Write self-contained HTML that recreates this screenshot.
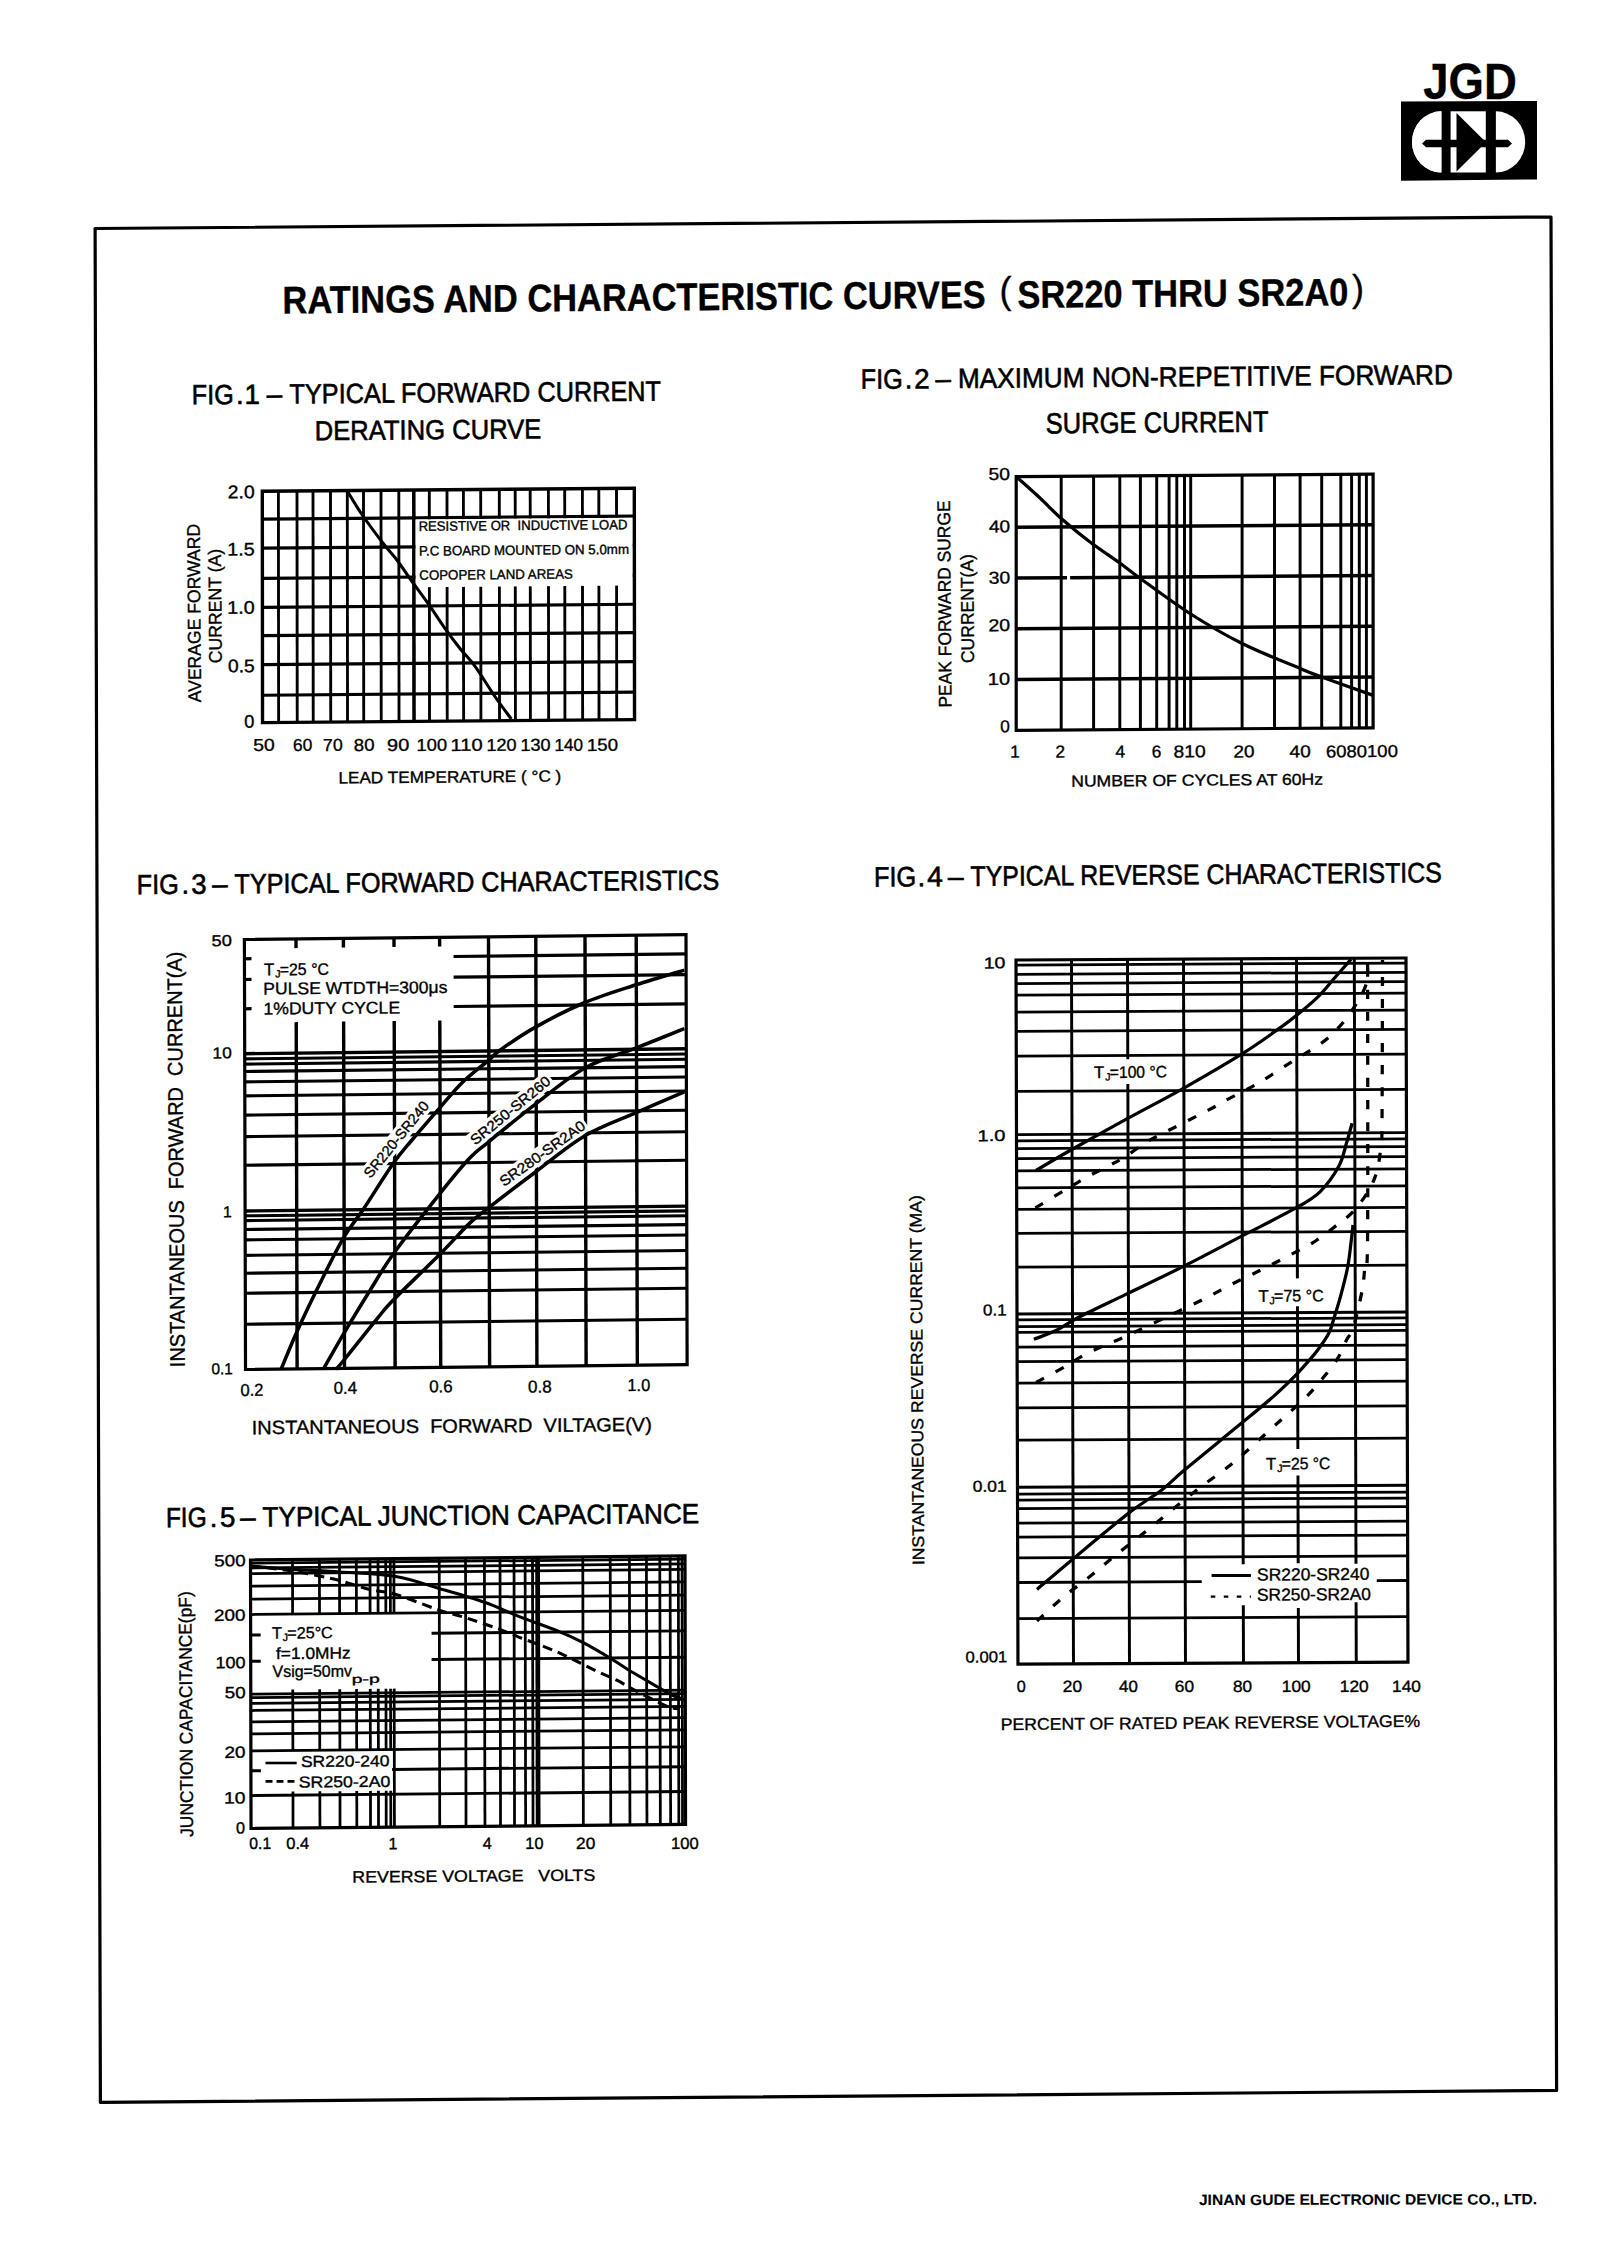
<!DOCTYPE html><html><head><meta charset="utf-8"><title>SR220 THRU SR2A0 Ratings and Characteristic Curves</title>
<style>html,body{margin:0;padding:0;background:#fff;}body{width:1622px;height:2260px;overflow:hidden;}svg{display:block;}text{font-family:"Liberation Sans",sans-serif;fill:#000;stroke:#000;stroke-width:0.35px;white-space:pre;}line{stroke:#000;}</style></head><body>
<svg width="1622" height="2260" viewBox="0 0 1622 2260">
<rect x="0" y="0" width="1622" height="2260" fill="#fff" stroke="none"/>
<g id="logo">
<text x="1423.31" y="99.00" font-size="50.00" font-weight="bold" textLength="93.60" lengthAdjust="spacingAndGlyphs" transform="rotate(0 1424.00 99.00)" >JGD</text>
<path d="M1401 101.5 L1537 101 L1537 179.5 L1401 180.8 Z" fill="#000" stroke="none"/>
<path d="M1441.4 111.3 L1441.4 172.5 A29.4 30.6 0 0 1 1441.4 111.3 Z" fill="#fff" stroke="none"/>
<path d="M1441.4 111.3 A 29.4 30.6 0 0 0 1441.4 172.5 Z" fill="#fff" stroke="none"/>
<rect x="1450.6" y="111.3" width="35.2" height="61.2" fill="#fff" stroke="none"/>
<path d="M1495.9 111.3 A 29.3 30.6 0 0 1 1495.9 172.5 Z" fill="#fff" stroke="none"/>
<path d="M1422 143.5 L1426 139.8 L1508 139.8 L1512 143.5 L1508 147.3 L1426 147.3 Z" fill="#000" stroke="none"/>
<path d="M1456.5 113 L1456.5 171.6 L1486 142.3 Z" fill="#000" stroke="none"/>
</g>
<path d="M95.1 228.5 L1551 217 L1556.6 2090.4 L100.4 2102.3Z" fill="none" stroke="#000" stroke-width="3.2" stroke-linejoin="round" />
<g id="title">
<text x="282.61" y="313.38" font-size="38.60" font-weight="bold" textLength="703.22" lengthAdjust="spacingAndGlyphs" transform="rotate(-0.45 284.90 313.38)" >RATINGS AND CHARACTERISTIC CURVES</text>
<text x="999.45" y="302.91" font-size="36.00" font-weight="normal" transform="rotate(0 1001.30 302.91)" >(</text>
<text x="1017.51" y="307.98" font-size="38.60" font-weight="bold" textLength="330.90" lengthAdjust="spacingAndGlyphs" transform="rotate(-0.45 1018.50 307.98)" >SR220 THRU SR2A0</text>
<text x="1352.02" y="301.21" font-size="36.00" font-weight="normal" transform="rotate(0 1352.00 301.21)" >)</text>
</g>
<g id="fig1">
<text x="191.84" y="404.30" font-size="27.76" font-weight="normal" textLength="41.95" lengthAdjust="spacingAndGlyphs" transform="rotate(-0.45 193.90 404.30)" style="stroke-width:0.6px">FIG</text>
<text x="236.14" y="403.95" font-size="27.76" font-weight="normal" transform="rotate(-0.45 238.80 403.95)" style="stroke-width:0.6px">.</text>
<text x="244.45" y="403.87" font-size="27.76" font-weight="normal" transform="rotate(-0.45 249.10 403.87)" style="stroke-width:0.6px">1</text>
<text x="266.84" y="403.73" font-size="27.76" font-weight="normal" transform="rotate(-0.45 266.90 403.73)" style="stroke-width:0.6px">–</text>
<text x="289.54" y="403.54" font-size="27.76" font-weight="normal" textLength="371.54" lengthAdjust="spacingAndGlyphs" transform="rotate(-0.45 290.10 403.54)" style="stroke-width:0.6px">TYPICAL FORWARD CURRENT</text>
<text x="314.72" y="440.20" font-size="27.47" font-weight="normal" textLength="226.67" lengthAdjust="spacingAndGlyphs" transform="rotate(-0.45 316.80 440.20)" style="stroke-width:0.6px">DERATING CURVE</text>
<g transform="matrix(1 -0.00810 0.00100 1 -0.491 2.125)">
<line x1="278.4" y1="491.3" x2="278.4" y2="722.6" stroke-width="2.85"/>
<line x1="297" y1="491.3" x2="297" y2="722.6" stroke-width="2.85"/>
<line x1="313" y1="491.3" x2="313" y2="722.6" stroke-width="2.85"/>
<line x1="330.5" y1="491.3" x2="330.5" y2="722.6" stroke-width="2.85"/>
<line x1="347.3" y1="491.3" x2="347.3" y2="722.6" stroke-width="2.85"/>
<line x1="363.5" y1="491.3" x2="363.5" y2="722.6" stroke-width="2.85"/>
<line x1="381" y1="491.3" x2="381" y2="722.6" stroke-width="2.85"/>
<line x1="398.8" y1="491.3" x2="398.8" y2="722.6" stroke-width="2.85"/>
<line x1="413.8" y1="491.3" x2="413.8" y2="722.6" stroke-width="3.5500000000000003"/>
<line x1="429.3" y1="491.3" x2="429.3" y2="722.6" stroke-width="2.85"/>
<line x1="447" y1="491.3" x2="447" y2="722.6" stroke-width="2.85"/>
<line x1="463.4" y1="491.3" x2="463.4" y2="722.6" stroke-width="2.85"/>
<line x1="480.7" y1="491.3" x2="480.7" y2="722.6" stroke-width="2.85"/>
<line x1="499.3" y1="491.3" x2="499.3" y2="722.6" stroke-width="2.85"/>
<line x1="515.2" y1="491.3" x2="515.2" y2="722.6" stroke-width="2.85"/>
<line x1="530.2" y1="491.3" x2="530.2" y2="722.6" stroke-width="2.85"/>
<line x1="548.4" y1="491.3" x2="548.4" y2="722.6" stroke-width="2.85"/>
<line x1="564.7" y1="491.3" x2="564.7" y2="722.6" stroke-width="2.85"/>
<line x1="582.4" y1="491.3" x2="582.4" y2="722.6" stroke-width="2.85"/>
<line x1="598.8" y1="491.3" x2="598.8" y2="722.6" stroke-width="2.85"/>
<line x1="616.5" y1="491.3" x2="616.5" y2="722.6" stroke-width="2.85"/>
<line x1="262.3" y1="519.1" x2="634.3" y2="519.1" stroke-width="3.15"/>
<line x1="262.3" y1="548.1" x2="634.3" y2="548.1" stroke-width="3.15"/>
<line x1="262.3" y1="578.3" x2="634.3" y2="578.3" stroke-width="3.15"/>
<line x1="262.3" y1="607.3" x2="634.3" y2="607.3" stroke-width="3.15"/>
<line x1="262.3" y1="635.6" x2="634.3" y2="635.6" stroke-width="3.15"/>
<line x1="262.3" y1="664.6" x2="634.3" y2="664.6" stroke-width="3.15"/>
<line x1="262.3" y1="695.2" x2="634.3" y2="695.2" stroke-width="3.15"/>
<rect x="415.6" y="520.7" width="217.1" height="67.8" fill="#fff" stroke="none"/>
<rect x="262.3" y="491.3" width="372" height="231.3" fill="none" stroke="#000" stroke-width="3.4"/>
</g>
<text x="418.63" y="530.89" font-size="13.63" font-weight="normal" textLength="208.90" lengthAdjust="spacingAndGlyphs" transform="rotate(-0.45 419.70 530.89)" >RESISTIVE OR  INDUCTIVE LOAD</text>
<text x="418.92" y="555.59" font-size="13.63" font-weight="normal" textLength="210.05" lengthAdjust="spacingAndGlyphs" transform="rotate(-0.45 420.00 555.59)" >P.C BOARD MOUNTED ON 5.0mm</text>
<text x="419.33" y="579.79" font-size="13.63" font-weight="normal" textLength="153.58" lengthAdjust="spacingAndGlyphs" transform="rotate(-0.45 420.00 579.79)" >COPOPER LAND AREAS</text>
<path d="M347.2 491 C349.6 494.83 355.72 505.42 361.6 514 C367.48 522.58 376.55 534.75 382.5 542.5 C388.45 550.25 392.5 554.17 397.3 560.5 C402.1 566.83 406.1 573.22 411.3 580.5 C416.5 587.78 422.9 596.23 428.5 604.2 C434.1 612.17 439.58 620.83 444.9 628.3 C450.22 635.77 455.37 642.67 460.4 649 C465.43 655.33 469.35 658.38 475.1 666.3 C480.85 674.22 488.87 687.72 494.9 696.5 C500.93 705.28 508.57 715.25 511.3 719" fill="none" stroke="#000" stroke-width="3.0500000000000003" stroke-linecap="butt" stroke-linejoin="round" />
<text x="227.83" y="498.27" font-size="18.24" font-weight="normal" textLength="26.93" lengthAdjust="spacingAndGlyphs" transform="rotate(-0.45 228.80 498.27)" >2.0</text>
<text x="227.29" y="555.57" font-size="18.24" font-weight="normal" textLength="27.54" lengthAdjust="spacingAndGlyphs" transform="rotate(-0.45 228.80 555.57)" >1.5</text>
<text x="227.29" y="613.87" font-size="18.24" font-weight="normal" textLength="27.48" lengthAdjust="spacingAndGlyphs" transform="rotate(-0.45 228.80 613.87)" >1.0</text>
<text x="228.05" y="672.27" font-size="18.24" font-weight="normal" textLength="26.76" lengthAdjust="spacingAndGlyphs" transform="rotate(-0.45 228.80 672.27)" >0.5</text>
<text x="244.18" y="727.77" font-size="18.24" font-weight="normal" transform="rotate(-0.45 244.50 727.77)" >0</text>
<text x="253.22" y="750.94" font-size="17.28" font-weight="normal" textLength="21.53" lengthAdjust="spacingAndGlyphs" transform="rotate(-0.45 254.00 750.94)" >50</text>
<text x="293.12" y="750.94" font-size="17.28" font-weight="normal" textLength="19.26" lengthAdjust="spacingAndGlyphs" transform="rotate(-0.45 294.00 750.94)" >60</text>
<text x="323.10" y="750.94" font-size="17.28" font-weight="normal" textLength="19.59" lengthAdjust="spacingAndGlyphs" transform="rotate(-0.45 324.00 750.94)" >70</text>
<text x="353.79" y="750.94" font-size="17.28" font-weight="normal" textLength="20.74" lengthAdjust="spacingAndGlyphs" transform="rotate(-0.45 354.60 750.94)" >80</text>
<text x="387.06" y="750.94" font-size="17.28" font-weight="normal" textLength="22.22" lengthAdjust="spacingAndGlyphs" transform="rotate(-0.45 388.00 750.94)" >90</text>
<text x="416.61" y="750.94" font-size="17.28" font-weight="normal" textLength="30.51" lengthAdjust="spacingAndGlyphs" transform="rotate(-0.45 418.00 750.94)" >100</text>
<text x="450.53" y="750.94" font-size="17.28" font-weight="normal" textLength="32.23" lengthAdjust="spacingAndGlyphs" transform="rotate(-0.45 452.00 750.94)" >110</text>
<text x="486.42" y="750.94" font-size="17.28" font-weight="normal" textLength="30.29" lengthAdjust="spacingAndGlyphs" transform="rotate(-0.45 487.80 750.94)" >120</text>
<text x="520.42" y="750.94" font-size="17.28" font-weight="normal" textLength="30.29" lengthAdjust="spacingAndGlyphs" transform="rotate(-0.45 521.80 750.94)" >130</text>
<text x="554.49" y="750.94" font-size="17.28" font-weight="normal" textLength="28.68" lengthAdjust="spacingAndGlyphs" transform="rotate(-0.45 555.80 750.94)" >140</text>
<text x="586.98" y="750.94" font-size="17.28" font-weight="normal" textLength="31.15" lengthAdjust="spacingAndGlyphs" transform="rotate(-0.45 588.40 750.94)" >150</text>
<text x="338.40" y="783.41" font-size="16.32" font-weight="normal" textLength="222.96" lengthAdjust="spacingAndGlyphs" transform="rotate(-0.45 339.80 783.41)" >LEAD TEMPERATURE ( °C )</text>
<text x="-0.03" y="6.27" font-size="18.24" font-weight="normal" textLength="178.46" lengthAdjust="spacingAndGlyphs" transform="translate(194.80 702.30) rotate(-90.45)" >AVERAGE FORWARD</text>
<text x="-0.89" y="6.27" font-size="18.24" font-weight="normal" textLength="114.39" lengthAdjust="spacingAndGlyphs" transform="translate(215.50 662.40) rotate(-90.45)" >CURRENT (A)</text>
</g>
<g id="fig2">
<text x="860.84" y="388.80" font-size="27.76" font-weight="normal" textLength="41.95" lengthAdjust="spacingAndGlyphs" transform="rotate(-0.45 862.90 388.80)" style="stroke-width:0.6px">FIG</text>
<text x="904.89" y="388.45" font-size="27.76" font-weight="normal" transform="rotate(-0.45 907.30 388.45)" style="stroke-width:0.6px">.</text>
<text x="914.38" y="388.39" font-size="27.76" font-weight="normal" transform="rotate(-0.45 915.70 388.39)" style="stroke-width:0.6px">2</text>
<text x="935.59" y="388.23" font-size="27.76" font-weight="normal" transform="rotate(-0.45 935.90 388.23)" style="stroke-width:0.6px">–</text>
<text x="957.96" y="388.04" font-size="27.76" font-weight="normal" textLength="494.99" lengthAdjust="spacingAndGlyphs" transform="rotate(-0.45 960.10 388.04)" style="stroke-width:0.6px">MAXIMUM NON-REPETITIVE FORWARD</text>
<text x="1045.84" y="433.40" font-size="29.22" font-weight="normal" textLength="222.75" lengthAdjust="spacingAndGlyphs" transform="rotate(-0.45 1047.00 433.40)" style="stroke-width:0.6px">SURGE CURRENT</text>
<g transform="matrix(1 -0.00700 0.00000 1 -0.000 7.113)">
<line x1="1061.2" y1="476.6" x2="1061.2" y2="730.3" stroke-width="2.95"/>
<line x1="1093.6" y1="476.6" x2="1093.6" y2="730.3" stroke-width="2.95"/>
<line x1="1119.8" y1="476.6" x2="1119.8" y2="730.3" stroke-width="2.95"/>
<line x1="1140.4" y1="476.6" x2="1140.4" y2="730.3" stroke-width="2.95"/>
<line x1="1156.7" y1="476.6" x2="1156.7" y2="730.3" stroke-width="2.95"/>
<line x1="1169.1" y1="476.6" x2="1169.1" y2="730.3" stroke-width="2.95"/>
<line x1="1176.8" y1="476.6" x2="1176.8" y2="730.3" stroke-width="2.95"/>
<line x1="1184.5" y1="476.6" x2="1184.5" y2="730.3" stroke-width="2.95"/>
<line x1="1190.7" y1="476.6" x2="1190.7" y2="730.3" stroke-width="2.95"/>
<line x1="1242.1" y1="476.6" x2="1242.1" y2="730.3" stroke-width="2.95"/>
<line x1="1274.5" y1="476.6" x2="1274.5" y2="730.3" stroke-width="2.95"/>
<line x1="1300.1" y1="476.6" x2="1300.1" y2="730.3" stroke-width="2.95"/>
<line x1="1321.7" y1="476.6" x2="1321.7" y2="730.3" stroke-width="2.95"/>
<line x1="1340.8" y1="476.6" x2="1340.8" y2="730.3" stroke-width="2.95"/>
<line x1="1351.6" y1="476.6" x2="1351.6" y2="730.3" stroke-width="2.95"/>
<line x1="1359.3" y1="476.6" x2="1359.3" y2="730.3" stroke-width="2.95"/>
<line x1="1366.4" y1="476.6" x2="1366.4" y2="730.3" stroke-width="2.95"/>
<line x1="1016.2" y1="527.34" x2="1373.1" y2="527.34" stroke-width="3.45"/>
<line x1="1016.2" y1="578.08" x2="1067" y2="578.08" stroke-width="3.45"/>
<line x1="1070.1" y1="578.08" x2="1373.1" y2="578.08" stroke-width="3.45"/>
<line x1="1016.2" y1="628.82" x2="1373.1" y2="628.82" stroke-width="3.45"/>
<line x1="1016.2" y1="679.56" x2="1373.1" y2="679.56" stroke-width="3.45"/>
<rect x="1016.2" y="476.6" width="356.9" height="253.7" fill="none" stroke="#000" stroke-width="3.2"/>
</g>
<path d="M1016.2 476.6 C1020.17 480.17 1032.5 491.02 1040 498 C1047.5 504.98 1052.87 511.17 1061.2 518.5 C1069.53 525.83 1080.23 534.58 1090 542 C1099.77 549.42 1111.4 556.92 1119.8 563 C1128.2 569.08 1128.58 570 1140.4 578.5 C1152.22 587 1173.75 603.17 1190.7 614 C1207.65 624.83 1223.87 634.42 1242.1 643.5 C1260.33 652.58 1286.83 662.92 1300.1 668.5 C1313.37 674.08 1309.53 672.52 1321.7 677 C1333.87 681.48 1364.53 692.33 1373.1 695.4" fill="none" stroke="#000" stroke-width="3.25" stroke-linecap="butt" stroke-linejoin="round" />
<text x="988.62" y="480.04" font-size="17.28" font-weight="normal" textLength="21.53" lengthAdjust="spacingAndGlyphs" transform="rotate(-0.45 989.40 480.04)" >50</text>
<text x="988.96" y="532.44" font-size="17.28" font-weight="normal" textLength="21.18" lengthAdjust="spacingAndGlyphs" transform="rotate(-0.45 989.40 532.44)" >40</text>
<text x="988.66" y="583.64" font-size="17.28" font-weight="normal" textLength="21.49" lengthAdjust="spacingAndGlyphs" transform="rotate(-0.45 989.40 583.64)" >30</text>
<text x="988.42" y="631.14" font-size="17.28" font-weight="normal" textLength="21.75" lengthAdjust="spacingAndGlyphs" transform="rotate(-0.45 989.40 631.14)" >20</text>
<text x="987.87" y="684.94" font-size="17.28" font-weight="normal" textLength="22.31" lengthAdjust="spacingAndGlyphs" transform="rotate(-0.45 989.40 684.94)" >10</text>
<text x="1000.29" y="732.24" font-size="17.28" font-weight="normal" transform="rotate(-0.45 1000.80 732.24)" >0</text>
<text x="1010.21" y="757.44" font-size="17.28" font-weight="normal" transform="rotate(-0.45 1012.50 757.44)" >1</text>
<text x="1055.44" y="757.44" font-size="17.28" font-weight="normal" transform="rotate(-0.45 1055.60 757.44)" >2</text>
<text x="1115.60" y="757.44" font-size="17.28" font-weight="normal" transform="rotate(-0.45 1115.70 757.44)" >4</text>
<text x="1151.64" y="757.44" font-size="17.28" font-weight="normal" transform="rotate(-0.45 1151.00 757.44)" >6</text>
<text x="1173.46" y="757.44" font-size="17.28" font-weight="normal" textLength="32.30" lengthAdjust="spacingAndGlyphs" transform="rotate(-0.45 1174.30 757.44)" >810</text>
<text x="1233.45" y="757.44" font-size="17.28" font-weight="normal" textLength="21.09" lengthAdjust="spacingAndGlyphs" transform="rotate(-0.45 1234.40 757.44)" >20</text>
<text x="1289.56" y="757.44" font-size="17.28" font-weight="normal" textLength="21.18" lengthAdjust="spacingAndGlyphs" transform="rotate(-0.45 1290.00 757.44)" >40</text>
<text x="1325.96" y="757.44" font-size="17.28" font-weight="normal" textLength="71.96" lengthAdjust="spacingAndGlyphs" transform="rotate(-0.45 1326.90 757.44)" >6080100</text>
<text x="1071.17" y="786.68" font-size="15.94" font-weight="normal" textLength="252.00" lengthAdjust="spacingAndGlyphs" transform="rotate(-0.45 1072.60 786.68)" >NUMBER OF CYCLES AT 60Hz</text>
<text x="-1.42" y="6.27" font-size="18.24" font-weight="normal" textLength="207.17" lengthAdjust="spacingAndGlyphs" transform="translate(945.30 706.20) rotate(-90.45)" >PEAK FORWARD SURGE</text>
<text x="-0.89" y="6.27" font-size="18.24" font-weight="normal" textLength="108.98" lengthAdjust="spacingAndGlyphs" transform="translate(967.80 662.20) rotate(-90.45)" >CURRENT(A)</text>
</g>
<g id="fig3">
<text x="136.84" y="894.20" font-size="27.76" font-weight="normal" textLength="41.95" lengthAdjust="spacingAndGlyphs" transform="rotate(-0.45 138.90 894.20)" style="stroke-width:0.6px">FIG</text>
<text x="181.39" y="893.85" font-size="27.76" font-weight="normal" transform="rotate(-0.45 183.80 893.85)" style="stroke-width:0.6px">.</text>
<text x="191.16" y="893.78" font-size="27.76" font-weight="normal" transform="rotate(-0.45 192.60 893.78)" style="stroke-width:0.6px">3</text>
<text x="212.34" y="893.62" font-size="27.76" font-weight="normal" transform="rotate(-0.45 212.90 893.62)" style="stroke-width:0.6px">–</text>
<text x="234.54" y="893.44" font-size="27.76" font-weight="normal" textLength="484.81" lengthAdjust="spacingAndGlyphs" transform="rotate(-0.45 235.10 893.44)" style="stroke-width:0.6px">TYPICAL FORWARD CHARACTERISTICS</text>
<g transform="matrix(1 -0.01110 0.00260 1 -2.443 2.713)">
<line x1="244.4" y1="1324.2" x2="686" y2="1324.2" stroke-width="3.1"/>
<line x1="244.4" y1="1293.2" x2="686" y2="1293.2" stroke-width="3.1"/>
<line x1="244.4" y1="1273.2" x2="686" y2="1273.2" stroke-width="3.1"/>
<line x1="244.4" y1="1255.4" x2="686" y2="1255.4" stroke-width="3.1"/>
<line x1="244.4" y1="1239.9" x2="686" y2="1239.9" stroke-width="3.1"/>
<line x1="244.4" y1="1229.5" x2="686" y2="1229.5" stroke-width="3.1"/>
<line x1="244.4" y1="1220.6" x2="686" y2="1220.6" stroke-width="3.1"/>
<line x1="244.4" y1="1215.8" x2="686" y2="1215.8" stroke-width="3.1"/>
<line x1="244.4" y1="1211" x2="686" y2="1211" stroke-width="3.4"/>
<line x1="244.4" y1="1165.2" x2="686" y2="1165.2" stroke-width="3.1"/>
<line x1="244.4" y1="1136.6" x2="686" y2="1136.6" stroke-width="3.1"/>
<line x1="244.4" y1="1115.1" x2="686" y2="1115.1" stroke-width="3.1"/>
<line x1="244.4" y1="1095.9" x2="686" y2="1095.9" stroke-width="3.1"/>
<line x1="244.4" y1="1081.9" x2="686" y2="1081.9" stroke-width="3.1"/>
<line x1="244.4" y1="1071.5" x2="686" y2="1071.5" stroke-width="3.1"/>
<line x1="244.4" y1="1064.1" x2="686" y2="1064.1" stroke-width="3.1"/>
<line x1="244.4" y1="1058.9" x2="686" y2="1058.9" stroke-width="3.1"/>
<line x1="244.4" y1="1053.7" x2="686" y2="1053.7" stroke-width="3.4"/>
<line x1="453.5" y1="1008.8" x2="686" y2="1008.8" stroke-width="3.2"/>
<line x1="244.4" y1="1008.8" x2="251.4" y2="1008.8" stroke-width="3.2"/>
<line x1="453.5" y1="979.5" x2="686" y2="979.5" stroke-width="3.2"/>
<line x1="244.4" y1="979.5" x2="251.4" y2="979.5" stroke-width="3.2"/>
<line x1="453.5" y1="958.8" x2="686" y2="958.8" stroke-width="3.2"/>
<line x1="244.4" y1="958.8" x2="251.4" y2="958.8" stroke-width="3.2"/>
<line x1="296" y1="939.5" x2="296" y2="948.7" stroke-width="3.4"/>
<line x1="296" y1="1022.7" x2="296" y2="1369.5" stroke-width="3.4"/>
<line x1="343.4" y1="939.5" x2="343.4" y2="948.7" stroke-width="3.4"/>
<line x1="343.4" y1="1022.7" x2="343.4" y2="1369.5" stroke-width="3.4"/>
<line x1="394" y1="939.5" x2="394" y2="948.7" stroke-width="3.4"/>
<line x1="394" y1="1022.7" x2="394" y2="1369.5" stroke-width="3.4"/>
<line x1="439.6" y1="939.5" x2="439.6" y2="948.7" stroke-width="3.4"/>
<line x1="439.6" y1="1022.7" x2="439.6" y2="1369.5" stroke-width="3.4"/>
<line x1="488.5" y1="939.5" x2="488.5" y2="1369.5" stroke-width="3.4"/>
<line x1="535.8" y1="939.5" x2="535.8" y2="1369.5" stroke-width="3.4"/>
<line x1="585" y1="939.5" x2="585" y2="1369.5" stroke-width="3.4"/>
<line x1="636.2" y1="939.5" x2="636.2" y2="1369.5" stroke-width="3.4"/>
<rect x="244.4" y="939.5" width="441.6" height="430" fill="none" stroke="#000" stroke-width="3.2"/>
</g>
<text x="264.09" y="975.21" font-size="16.90" font-weight="normal" transform="rotate(-0.45 264.00 975.21)" >T</text>
<text x="275.17" y="977.63" font-size="10.56" font-weight="normal" transform="rotate(-0.45 275.00 977.63)" >J</text>
<text x="279.72" y="975.21" font-size="16.90" font-weight="normal" textLength="49.28" lengthAdjust="spacingAndGlyphs" transform="rotate(-0.45 280.50 975.21)" >=25 °C</text>
<text x="263.36" y="994.41" font-size="16.90" font-weight="normal" textLength="184.07" lengthAdjust="spacingAndGlyphs" transform="rotate(-0.45 264.80 994.41)" >PULSE WTDTH=300μs</text>
<text x="263.46" y="1014.41" font-size="16.90" font-weight="normal" textLength="136.69" lengthAdjust="spacingAndGlyphs" transform="rotate(-0.45 264.80 1014.41)" >1%DUTY CYCLE</text>
<rect x="-3" y="-13.5" width="98.77" height="17" fill="#fff" stroke="none" transform="translate(371 1178.6) rotate(-50.91)"/>
<rect x="-3" y="-13.5" width="103.69" height="17" fill="#fff" stroke="none" transform="translate(475.7 1145.3) rotate(-39.39)"/>
<rect x="-3" y="-13.5" width="106.03" height="17" fill="#fff" stroke="none" transform="translate(504.5 1186.5) rotate(-35.44)"/>
<path d="M281 1369.4 C283.6 1363.23 290.3 1346.33 296.6 1332.4 C302.9 1318.47 310.97 1301.58 318.8 1285.8 C326.63 1270.02 336.2 1250.42 343.6 1237.7 C351 1224.98 355 1221.78 363.2 1209.5 C371.4 1197.22 384.67 1175.58 392.8 1164 C400.93 1152.42 404.07 1149.48 412 1140 C419.93 1130.52 432.05 1116.65 440.4 1107.1 C448.75 1097.55 454.08 1090.5 462.1 1082.7 C470.12 1074.9 482.03 1065.83 488.5 1060.3 C494.97 1054.77 493.07 1055.03 500.9 1049.5 C508.73 1043.97 521.5 1034.93 535.5 1027.1 C549.5 1019.27 568.12 1009.57 584.9 1002.5 C601.68 995.43 619.63 990.1 636.2 984.7 C652.77 979.3 676.28 972.53 684.3 970.1" fill="none" stroke="#000" stroke-width="3.5500000000000003" stroke-linecap="butt" stroke-linejoin="round" />
<path d="M323.2 1369.4 C326.6 1363.47 335.7 1347.12 343.6 1333.8 C351.5 1320.48 362.15 1303.05 370.6 1289.5 C379.05 1275.95 382.72 1268.53 394.3 1252.5 C405.88 1236.47 427.48 1209.08 440.1 1193.3 C452.72 1177.52 461.88 1166.38 470 1157.8 C478.12 1149.22 477.68 1150.92 488.8 1141.8 C499.92 1132.68 520.68 1115.4 536.7 1103.1 C552.72 1090.8 568.32 1077.2 584.9 1068 C601.48 1058.8 619.63 1054.45 636.2 1047.9 C652.77 1041.35 676.28 1031.9 684.3 1028.7" fill="none" stroke="#000" stroke-width="3.5500000000000003" stroke-linecap="butt" stroke-linejoin="round" />
<path d="M335.8 1369.4 C337.1 1367.92 336.57 1369.13 343.6 1360.5 C350.63 1351.87 369.55 1327.85 378 1317.6 C386.45 1307.35 383.95 1309.6 394.3 1299 C404.65 1288.4 427.48 1266.68 440.1 1254 C452.72 1241.32 461.93 1230.6 470 1222.9 C478.07 1215.2 477.58 1216.28 488.5 1207.8 C499.42 1199.32 519.43 1184 535.5 1172 C551.57 1160 568.12 1145.68 584.9 1135.8 C601.68 1125.92 619.63 1120.02 636.2 1112.7 C652.77 1105.38 676.28 1095.37 684.3 1091.9" fill="none" stroke="#000" stroke-width="3.5500000000000003" stroke-linecap="butt" stroke-linejoin="round" />
<text x="-0.66" y="0" font-size="14.50" font-weight="normal" textLength="94.00" lengthAdjust="spacingAndGlyphs" transform="translate(371.00 1178.60) rotate(-50.906)" >SR220-SR240</text>
<text x="-0.70" y="0" font-size="14.50" font-weight="normal" textLength="98.99" lengthAdjust="spacingAndGlyphs" transform="translate(475.70 1145.30) rotate(-39.393)" >SR250-SR260</text>
<text x="-0.70" y="0" font-size="14.50" font-weight="normal" textLength="101.34" lengthAdjust="spacingAndGlyphs" transform="translate(504.50 1186.50) rotate(-35.438)" >SR280-SR2A0</text>
<text x="211.47" y="946.15" font-size="15.84" font-weight="normal" textLength="20.35" lengthAdjust="spacingAndGlyphs" transform="rotate(-0.45 212.20 946.15)" >50</text>
<text x="212.59" y="1058.45" font-size="15.84" font-weight="normal" textLength="19.19" lengthAdjust="spacingAndGlyphs" transform="rotate(-0.45 213.90 1058.45)" >10</text>
<text x="222.88" y="1217.25" font-size="15.84" font-weight="normal" transform="rotate(-0.45 224.00 1217.25)" >1</text>
<text x="211.40" y="1374.35" font-size="15.84" font-weight="normal" textLength="21.35" lengthAdjust="spacingAndGlyphs" transform="rotate(-0.45 212.00 1374.35)" >0.1</text>
<text x="240.45" y="1395.94" font-size="17.28" font-weight="normal" textLength="22.98" lengthAdjust="spacingAndGlyphs" transform="rotate(-0.45 241.10 1395.94)" >0.2</text>
<text x="333.64" y="1393.84" font-size="17.28" font-weight="normal" textLength="23.35" lengthAdjust="spacingAndGlyphs" transform="rotate(-0.45 334.30 1393.84)" >0.4</text>
<text x="429.14" y="1392.34" font-size="17.28" font-weight="normal" textLength="23.61" lengthAdjust="spacingAndGlyphs" transform="rotate(-0.45 429.80 1392.34)" >0.6</text>
<text x="527.93" y="1392.54" font-size="17.28" font-weight="normal" textLength="23.81" lengthAdjust="spacingAndGlyphs" transform="rotate(-0.45 528.60 1392.54)" >0.8</text>
<text x="627.56" y="1391.04" font-size="17.28" font-weight="normal" textLength="22.68" lengthAdjust="spacingAndGlyphs" transform="rotate(-0.45 628.80 1391.04)" >1.0</text>
<text x="251.78" y="1434.20" font-size="19.20" font-weight="normal" textLength="400.14" lengthAdjust="spacingAndGlyphs" transform="rotate(-0.45 253.60 1434.20)" >INSTANTANEOUS  FORWARD  VILTAGE(V)</text>
<text x="-1.83" y="7.22" font-size="21.00" font-weight="normal" textLength="415.65" lengthAdjust="spacingAndGlyphs" transform="translate(177.60 1365.40) rotate(-90.45)" >INSTANTANEOUS  FORWARD  CURRENT(A)</text>
</g>
<g id="fig4">
<text x="873.91" y="886.70" font-size="28.20" font-weight="normal" textLength="42.39" lengthAdjust="spacingAndGlyphs" transform="rotate(-0.45 876.00 886.70)" style="stroke-width:0.6px">FIG</text>
<text x="917.58" y="886.35" font-size="28.20" font-weight="normal" transform="rotate(-0.45 920.00 886.35)" style="stroke-width:0.6px">.</text>
<text x="927.25" y="886.29" font-size="28.20" font-weight="normal" transform="rotate(-0.45 928.00 886.29)" style="stroke-width:0.6px">4</text>
<text x="948.02" y="886.13" font-size="28.20" font-weight="normal" transform="rotate(-0.45 949.00 886.13)" style="stroke-width:0.6px">–</text>
<text x="970.44" y="885.95" font-size="28.20" font-weight="normal" textLength="471.50" lengthAdjust="spacingAndGlyphs" transform="rotate(-0.45 971.00 885.95)" style="stroke-width:0.6px">TYPICAL REVERSE CHARACTERISTICS</text>
<g transform="matrix(1 -0.00510 0.00280 1 -2.688 5.182)">
<line x1="1016" y1="965" x2="1406" y2="965" stroke-width="2.75"/>
<line x1="1016" y1="974.3" x2="1406" y2="974.3" stroke-width="2.75"/>
<line x1="1016" y1="983.5" x2="1406" y2="983.5" stroke-width="2.75"/>
<line x1="1016" y1="995.1" x2="1406" y2="995.1" stroke-width="2.75"/>
<line x1="1016" y1="1012" x2="1406" y2="1012" stroke-width="2.75"/>
<line x1="1016" y1="1031.3" x2="1406" y2="1031.3" stroke-width="2.75"/>
<line x1="1016" y1="1056" x2="1406" y2="1056" stroke-width="2.75"/>
<line x1="1016" y1="1091.4" x2="1406" y2="1091.4" stroke-width="2.75"/>
<line x1="1016" y1="1134.6" x2="1406" y2="1134.6" stroke-width="2.95"/>
<line x1="1016" y1="1140.8" x2="1406" y2="1140.8" stroke-width="2.75"/>
<line x1="1016" y1="1148.5" x2="1406" y2="1148.5" stroke-width="2.75"/>
<line x1="1016" y1="1158.5" x2="1406" y2="1158.5" stroke-width="2.75"/>
<line x1="1016" y1="1170.8" x2="1406" y2="1170.8" stroke-width="2.75"/>
<line x1="1016" y1="1187.8" x2="1406" y2="1187.8" stroke-width="2.75"/>
<line x1="1016" y1="1209.4" x2="1406" y2="1209.4" stroke-width="2.75"/>
<line x1="1016" y1="1233.3" x2="1406" y2="1233.3" stroke-width="2.75"/>
<line x1="1016" y1="1267.2" x2="1406" y2="1267.2" stroke-width="2.75"/>
<line x1="1016" y1="1314" x2="1406" y2="1314" stroke-width="2.95"/>
<line x1="1016" y1="1319.8" x2="1406" y2="1319.8" stroke-width="2.75"/>
<line x1="1016" y1="1326.7" x2="1406" y2="1326.7" stroke-width="2.75"/>
<line x1="1016" y1="1332.3" x2="1406" y2="1332.3" stroke-width="2.75"/>
<line x1="1016" y1="1347" x2="1406" y2="1347" stroke-width="2.75"/>
<line x1="1016" y1="1361.6" x2="1406" y2="1361.6" stroke-width="2.75"/>
<line x1="1016" y1="1383.2" x2="1406" y2="1383.2" stroke-width="2.75"/>
<line x1="1016" y1="1407.9" x2="1406" y2="1407.9" stroke-width="2.75"/>
<line x1="1016" y1="1440.2" x2="1406" y2="1440.2" stroke-width="2.75"/>
<line x1="1016" y1="1487.2" x2="1406" y2="1487.2" stroke-width="2.95"/>
<line x1="1016" y1="1494" x2="1406" y2="1494" stroke-width="2.75"/>
<line x1="1016" y1="1500" x2="1406" y2="1500" stroke-width="2.75"/>
<line x1="1016" y1="1508.5" x2="1406" y2="1508.5" stroke-width="2.75"/>
<line x1="1016" y1="1523.1" x2="1406" y2="1523.1" stroke-width="2.75"/>
<line x1="1016" y1="1537" x2="1406" y2="1537" stroke-width="2.75"/>
<line x1="1016" y1="1557.8" x2="1406" y2="1557.8" stroke-width="2.75"/>
<line x1="1016" y1="1582.5" x2="1200" y2="1582.5" stroke-width="2.85"/>
<line x1="1375" y1="1582.5" x2="1406" y2="1582.5" stroke-width="2.85"/>
<line x1="1016" y1="1618.7" x2="1406" y2="1618.7" stroke-width="2.75"/>
<line x1="1071.5" y1="960" x2="1071.5" y2="1664.2" stroke-width="2.95"/>
<line x1="1127.5" y1="960" x2="1127.5" y2="1059.8" stroke-width="2.95"/>
<line x1="1127.5" y1="1084.5" x2="1127.5" y2="1664.2" stroke-width="2.95"/>
<line x1="1183.5" y1="960" x2="1183.5" y2="1664.2" stroke-width="2.95"/>
<line x1="1241.5" y1="960" x2="1241.5" y2="1565.5" stroke-width="2.95"/>
<line x1="1241.5" y1="1606.4" x2="1241.5" y2="1664.2" stroke-width="2.95"/>
<line x1="1296.5" y1="960" x2="1296.5" y2="1279.8" stroke-width="2.95"/>
<line x1="1296.5" y1="1307.6" x2="1296.5" y2="1450.4" stroke-width="2.95"/>
<line x1="1296.5" y1="1477" x2="1296.5" y2="1564.7" stroke-width="2.95"/>
<line x1="1296.5" y1="1609.4" x2="1296.5" y2="1664.2" stroke-width="2.95"/>
<line x1="1354.3" y1="960" x2="1354.3" y2="1565.5" stroke-width="2.95"/>
<line x1="1354.3" y1="1604" x2="1354.3" y2="1664.2" stroke-width="2.95"/>
<rect x="1016" y="960" width="390" height="704.2" fill="none" stroke="#000" stroke-width="3.2"/>
</g>
<text x="1094.12" y="1077.98" font-size="16.80" font-weight="normal" transform="rotate(-0.45 1094.00 1077.98)" >T</text>
<text x="1105.17" y="1080.63" font-size="10.56" font-weight="normal" transform="rotate(-0.45 1105.00 1080.63)" >J</text>
<text x="1109.73" y="1077.98" font-size="16.80" font-weight="normal" textLength="57.37" lengthAdjust="spacingAndGlyphs" transform="rotate(-0.45 1110.50 1077.98)" >=100 °C</text>
<text x="1258.42" y="1301.68" font-size="16.80" font-weight="normal" transform="rotate(-0.45 1258.30 1301.68)" >T</text>
<text x="1269.47" y="1304.33" font-size="10.56" font-weight="normal" transform="rotate(-0.45 1269.30 1304.33)" >J</text>
<text x="1274.01" y="1301.68" font-size="16.80" font-weight="normal" textLength="49.80" lengthAdjust="spacingAndGlyphs" transform="rotate(-0.45 1274.80 1301.68)" >=75 °C</text>
<text x="1266.12" y="1469.48" font-size="16.80" font-weight="normal" transform="rotate(-0.45 1266.00 1469.48)" >T</text>
<text x="1277.17" y="1472.13" font-size="10.56" font-weight="normal" transform="rotate(-0.45 1277.00 1472.13)" >J</text>
<text x="1281.73" y="1469.48" font-size="16.80" font-weight="normal" textLength="48.77" lengthAdjust="spacingAndGlyphs" transform="rotate(-0.45 1282.50 1469.48)" >=25 °C</text>
<path d="M1035.9 1170.5 C1041.73 1167.08 1055.82 1158.55 1070.9 1150 C1085.98 1141.45 1107.65 1129.48 1126.4 1119.2 C1145.15 1108.92 1164.27 1099.1 1183.4 1088.3 C1202.53 1077.5 1226.22 1063.67 1241.2 1054.4 C1256.18 1045.13 1264.1 1039.18 1273.3 1032.7 C1282.5 1026.22 1289 1021.42 1296.4 1015.5 C1303.8 1009.58 1311.38 1003.4 1317.7 997.2 C1324.02 991 1328.75 984.6 1334.3 978.3 C1339.85 972 1348.22 962.55 1351 959.4" fill="none" stroke="#000" stroke-width="3.25" stroke-linecap="butt" stroke-linejoin="round" />
<path d="M1033.9 1339.3 C1037.75 1337.75 1049.3 1333.8 1057 1330 C1064.7 1326.2 1068.53 1322.48 1080.1 1316.5 C1091.67 1310.52 1109.18 1302.45 1126.4 1294.1 C1143.62 1285.75 1164.27 1276.02 1183.4 1266.4 C1202.53 1256.78 1222.52 1246.1 1241.2 1236.4 C1259.88 1226.7 1282.37 1215.63 1295.5 1208.2 C1308.63 1200.77 1312.78 1198.78 1320 1191.8 C1327.22 1184.82 1334.38 1174.42 1338.8 1166.3 C1343.22 1158.18 1344.28 1150.28 1346.5 1143.1 C1348.72 1135.92 1351.17 1126.52 1352.1 1123.2" fill="none" stroke="#000" stroke-width="3.25" stroke-linecap="butt" stroke-linejoin="round" />
<path d="M1037 1589.4 C1042.9 1584.4 1057.12 1572.12 1072.4 1559.4 C1087.68 1546.68 1113.8 1524.67 1128.7 1513.1 C1143.6 1501.53 1152.42 1497.27 1161.8 1490 C1171.18 1482.73 1171.9 1480.48 1185 1469.5 C1198.1 1458.52 1225.68 1436.25 1240.4 1424.1 C1255.12 1411.95 1264.48 1404.33 1273.3 1396.6 C1282.12 1388.87 1287.75 1383.25 1293.3 1377.7 C1298.85 1372.15 1302.53 1367.92 1306.6 1363.3 C1310.67 1358.68 1314 1355 1317.7 1350 C1321.4 1345 1326.02 1338.83 1328.8 1333.3 C1331.58 1327.77 1332.37 1323.25 1334.4 1316.8 C1336.43 1310.35 1338.78 1302.9 1341 1294.6 C1343.22 1286.3 1346.03 1275.65 1347.7 1267 C1349.37 1258.35 1350.12 1249.7 1351 1242.7 C1351.88 1235.7 1352.67 1227.95 1353 1225" fill="none" stroke="#000" stroke-width="3.25" stroke-linecap="butt" stroke-linejoin="round" />
<path d="M1035.4 1207.8 C1040.55 1204.72 1057.95 1194.3 1066.3 1189.3 C1074.65 1184.3 1078.57 1181.65 1085.5 1177.8 C1092.43 1173.95 1101.35 1169.67 1107.9 1166.2 C1114.45 1162.73 1118.63 1160.85 1124.8 1157 C1130.97 1153.15 1138.22 1147.22 1144.9 1143.1 C1151.58 1138.98 1154.25 1137.83 1164.9 1132.3 C1175.55 1126.77 1198.27 1115.43 1208.8 1109.9 C1219.33 1104.37 1219.85 1103.55 1228.1 1099.1 C1236.35 1094.65 1248.37 1089 1258.3 1083.2 C1268.23 1077.4 1278.92 1069.85 1287.7 1064.3 C1296.48 1058.75 1304.33 1054.25 1311 1049.9 C1317.67 1045.55 1322.23 1042.92 1327.7 1038.2 C1333.17 1033.48 1338.82 1027.7 1343.8 1021.6 C1348.78 1015.5 1353.82 1008.08 1357.6 1001.6 C1361.38 995.12 1364.83 989.63 1366.5 982.7 C1368.17 975.77 1367.42 963.78 1367.6 960" fill="none" stroke="#000" stroke-width="3.25" stroke-dasharray="9 13" stroke-linecap="butt" stroke-linejoin="round" />
<path d="M1036.2 1382.4 C1041.33 1379.58 1058.9 1370.12 1067 1365.5 C1075.1 1360.88 1078.25 1358.17 1084.8 1354.7 C1091.35 1351.23 1099.12 1347.92 1106.3 1344.7 C1113.48 1341.48 1115.82 1341 1127.9 1335.4 C1139.98 1329.8 1165.05 1317.72 1178.8 1311.1 C1192.55 1304.48 1201.53 1300.2 1210.4 1295.7 C1219.27 1291.2 1225.03 1287.67 1232 1284.1 C1238.97 1280.53 1245.32 1277.7 1252.2 1274.3 C1259.08 1270.9 1266.08 1267.4 1273.3 1263.7 C1280.52 1260 1288.47 1255.88 1295.5 1252.1 C1302.53 1248.32 1309.03 1245.17 1315.5 1241 C1321.97 1236.83 1328.02 1232 1334.3 1227.1 C1340.58 1222.2 1347.38 1217.85 1353.2 1211.6 C1359.02 1205.35 1365.23 1196.4 1369.2 1189.6 C1373.17 1182.8 1375.07 1177.82 1377 1170.8 C1378.93 1163.78 1379.97 1155.3 1380.8 1147.5 C1381.63 1139.7 1381.72 1155.25 1382 1124 C1382.28 1092.75 1382.42 987.33 1382.5 960" fill="none" stroke="#000" stroke-width="3.25" stroke-dasharray="9 13" stroke-linecap="butt" stroke-linejoin="round" />
<path d="M1037 1621 C1041.23 1617.15 1053.53 1605.35 1062.4 1597.9 C1071.27 1590.45 1081.08 1583.62 1090.2 1576.3 C1099.32 1568.98 1107.85 1561.45 1117.1 1554 C1126.35 1546.55 1136.45 1539.05 1145.7 1531.6 C1154.95 1524.15 1163.48 1516.7 1172.6 1509.3 C1181.72 1501.9 1191.4 1494.08 1200.4 1487.2 C1209.4 1480.32 1219.17 1473.77 1226.6 1468 C1234.03 1462.23 1237.58 1459.13 1245 1452.6 C1252.42 1446.07 1263.62 1435.55 1271.1 1428.8 C1278.58 1422.05 1283.9 1417.57 1289.9 1412.1 C1295.9 1406.63 1301.63 1401.63 1307.1 1396 C1312.57 1390.37 1317.6 1384.58 1322.7 1378.3 C1327.8 1372.02 1333.73 1364.68 1337.7 1358.3 C1341.67 1351.92 1343.92 1345.08 1346.5 1340 C1349.08 1334.92 1350.62 1335.97 1353.2 1327.8 C1355.78 1319.63 1360.03 1301.47 1362 1291 C1363.97 1280.53 1364.07 1274.33 1365 1265 C1365.93 1255.67 1367.17 1285.83 1367.6 1235 C1368.03 1184.17 1367.6 1005.83 1367.6 960" fill="none" stroke="#000" stroke-width="3.25" stroke-dasharray="9 13" stroke-linecap="butt" stroke-linejoin="round" />
<path d="M1211.6 1575.5 L1250.9 1575.5" fill="none" stroke="#000" stroke-width="3" stroke-linejoin="round" />
<path d="M1210.8 1596.6 L1250.9 1596.6" fill="none" stroke="#000" stroke-width="2.4" stroke-dasharray="4.5 8.5" stroke-linejoin="round" />
<text x="1257.01" y="1580.61" font-size="17.18" font-weight="normal" textLength="112.47" lengthAdjust="spacingAndGlyphs" transform="rotate(-0.45 1257.80 1580.61)" >SR220-SR240</text>
<text x="1257.01" y="1600.71" font-size="17.18" font-weight="normal" textLength="113.97" lengthAdjust="spacingAndGlyphs" transform="rotate(-0.45 1257.80 1600.71)" >SR250-SR2A0</text>
<text x="1016.66" y="1692.11" font-size="16.32" font-weight="normal" transform="rotate(-0.45 1016.45 1692.11)" >0</text>
<text x="1062.82" y="1692.11" font-size="16.32" font-weight="normal" textLength="19.35" lengthAdjust="spacingAndGlyphs" transform="rotate(-0.45 1063.70 1692.11)" >20</text>
<text x="1119.11" y="1692.11" font-size="16.32" font-weight="normal" textLength="18.85" lengthAdjust="spacingAndGlyphs" transform="rotate(-0.45 1119.50 1692.11)" >40</text>
<text x="1174.82" y="1692.11" font-size="16.32" font-weight="normal" textLength="19.36" lengthAdjust="spacingAndGlyphs" transform="rotate(-0.45 1175.70 1692.11)" >60</text>
<text x="1232.95" y="1692.11" font-size="16.32" font-weight="normal" textLength="19.23" lengthAdjust="spacingAndGlyphs" transform="rotate(-0.45 1233.70 1692.11)" >80</text>
<text x="1281.78" y="1692.11" font-size="16.32" font-weight="normal" textLength="29.00" lengthAdjust="spacingAndGlyphs" transform="rotate(-0.45 1283.10 1692.11)" >100</text>
<text x="1339.78" y="1692.11" font-size="16.32" font-weight="normal" textLength="29.00" lengthAdjust="spacingAndGlyphs" transform="rotate(-0.45 1341.10 1692.11)" >120</text>
<text x="1391.98" y="1692.11" font-size="16.32" font-weight="normal" textLength="29.00" lengthAdjust="spacingAndGlyphs" transform="rotate(-0.45 1393.30 1692.11)" >140</text>
<text x="983.71" y="968.45" font-size="15.84" font-weight="normal" textLength="21.75" lengthAdjust="spacingAndGlyphs" transform="rotate(-0.45 985.20 968.45)" >10</text>
<text x="977.46" y="1141.15" font-size="15.84" font-weight="normal" textLength="28.02" lengthAdjust="spacingAndGlyphs" transform="rotate(-0.45 979.00 1141.15)" >1.0</text>
<text x="983.04" y="1315.55" font-size="15.84" font-weight="normal" textLength="23.59" lengthAdjust="spacingAndGlyphs" transform="rotate(-0.45 983.70 1315.55)" >0.1</text>
<text x="972.72" y="1491.85" font-size="15.84" font-weight="normal" textLength="33.93" lengthAdjust="spacingAndGlyphs" transform="rotate(-0.45 973.40 1491.85)" >0.01</text>
<text x="965.45" y="1662.55" font-size="15.84" font-weight="normal" textLength="41.87" lengthAdjust="spacingAndGlyphs" transform="rotate(-0.45 966.10 1662.55)" >0.001</text>
<text x="1000.67" y="1730.08" font-size="16.80" font-weight="normal" textLength="419.56" lengthAdjust="spacingAndGlyphs" transform="rotate(-0.45 1002.10 1730.08)" >PERCENT OF RATED PEAK REVERSE VOLTAGE%</text>
<text x="-1.61" y="5.78" font-size="16.80" font-weight="normal" textLength="369.90" lengthAdjust="spacingAndGlyphs" transform="translate(918.40 1563.50) rotate(-90.45)" >INSTANTANEOUS REVERSE CURRENT (MA)</text>
</g>
<g id="fig5">
<text x="165.89" y="1527.20" font-size="27.76" font-weight="normal" textLength="40.84" lengthAdjust="spacingAndGlyphs" transform="rotate(-0.45 167.90 1527.20)" style="stroke-width:0.6px">FIG</text>
<text x="209.64" y="1526.86" font-size="27.76" font-weight="normal" transform="rotate(-0.45 211.80 1526.86)" style="stroke-width:0.6px">.</text>
<text x="219.91" y="1526.78" font-size="27.76" font-weight="normal" transform="rotate(-0.45 221.20 1526.78)" style="stroke-width:0.6px">5</text>
<text x="240.34" y="1526.63" font-size="27.76" font-weight="normal" transform="rotate(-0.45 240.90 1526.63)" style="stroke-width:0.6px">–</text>
<text x="262.52" y="1526.45" font-size="27.76" font-weight="normal" textLength="436.69" lengthAdjust="spacingAndGlyphs" transform="rotate(-0.45 263.10 1526.45)" style="stroke-width:0.6px">TYPICAL JUNCTION CAPACITANCE</text>
<g transform="matrix(1 -0.00950 0.00200 1 -3.120 2.380)">
<line x1="250.5" y1="1563.2" x2="685" y2="1563.2" stroke-width="2.75"/>
<line x1="250.5" y1="1568" x2="685" y2="1568" stroke-width="2.75"/>
<line x1="250.5" y1="1573.6" x2="685" y2="1573.6" stroke-width="2.75"/>
<line x1="250.5" y1="1586.1" x2="685" y2="1586.1" stroke-width="2.75"/>
<line x1="250.5" y1="1599.2" x2="685" y2="1599.2" stroke-width="2.75"/>
<line x1="250.5" y1="1614.5" x2="685" y2="1614.5" stroke-width="2.75"/>
<line x1="250.5" y1="1694.2" x2="685" y2="1694.2" stroke-width="2.75"/>
<line x1="250.5" y1="1697.7" x2="685" y2="1697.7" stroke-width="2.75"/>
<line x1="250.5" y1="1703.4" x2="685" y2="1703.4" stroke-width="2.75"/>
<line x1="250.5" y1="1710.5" x2="685" y2="1710.5" stroke-width="2.75"/>
<line x1="250.5" y1="1721.8" x2="685" y2="1721.8" stroke-width="2.75"/>
<line x1="250.5" y1="1733.9" x2="685" y2="1733.9" stroke-width="2.75"/>
<line x1="250.5" y1="1750.9" x2="685" y2="1750.9" stroke-width="2.75"/>
<line x1="250.5" y1="1795.6" x2="685" y2="1795.6" stroke-width="2.95"/>
<line x1="250.5" y1="1635" x2="260.5" y2="1635" stroke-width="2.95"/>
<line x1="431.4" y1="1635" x2="685" y2="1635" stroke-width="2.95"/>
<line x1="250.5" y1="1661.3" x2="260.5" y2="1661.3" stroke-width="2.95"/>
<line x1="431.4" y1="1661.3" x2="685" y2="1661.3" stroke-width="2.95"/>
<line x1="250.5" y1="1770.8" x2="260.5" y2="1770.8" stroke-width="2.95"/>
<line x1="391.7" y1="1770.8" x2="685" y2="1770.8" stroke-width="2.95"/>
<line x1="292.5" y1="1560" x2="292.5" y2="1614.5" stroke-width="2.75"/>
<line x1="292.5" y1="1690" x2="292.5" y2="1750.9" stroke-width="2.75"/>
<line x1="292.5" y1="1792" x2="292.5" y2="1828.5" stroke-width="2.75"/>
<line x1="319.4" y1="1560" x2="319.4" y2="1614.5" stroke-width="2.75"/>
<line x1="319.4" y1="1690" x2="319.4" y2="1750.9" stroke-width="2.75"/>
<line x1="319.4" y1="1792" x2="319.4" y2="1828.5" stroke-width="2.75"/>
<line x1="339.5" y1="1560" x2="339.5" y2="1614.5" stroke-width="2.75"/>
<line x1="339.5" y1="1690" x2="339.5" y2="1750.9" stroke-width="2.75"/>
<line x1="339.5" y1="1792" x2="339.5" y2="1828.5" stroke-width="2.75"/>
<line x1="356.3" y1="1560" x2="356.3" y2="1614.5" stroke-width="2.75"/>
<line x1="356.3" y1="1690" x2="356.3" y2="1750.9" stroke-width="2.75"/>
<line x1="356.3" y1="1792" x2="356.3" y2="1828.5" stroke-width="2.75"/>
<line x1="370" y1="1560" x2="370" y2="1614.5" stroke-width="2.75"/>
<line x1="370" y1="1690" x2="370" y2="1750.9" stroke-width="2.75"/>
<line x1="370" y1="1792" x2="370" y2="1828.5" stroke-width="2.75"/>
<line x1="378" y1="1560" x2="378" y2="1614.5" stroke-width="2.75"/>
<line x1="378" y1="1690" x2="378" y2="1750.9" stroke-width="2.75"/>
<line x1="378" y1="1792" x2="378" y2="1828.5" stroke-width="2.75"/>
<line x1="385.7" y1="1560" x2="385.7" y2="1614.5" stroke-width="2.75"/>
<line x1="385.7" y1="1690" x2="385.7" y2="1750.9" stroke-width="2.75"/>
<line x1="385.7" y1="1792" x2="385.7" y2="1828.5" stroke-width="2.75"/>
<line x1="390.3" y1="1560" x2="390.3" y2="1614.5" stroke-width="2.75"/>
<line x1="390.3" y1="1690" x2="390.3" y2="1750.9" stroke-width="2.75"/>
<line x1="390.3" y1="1792" x2="390.3" y2="1828.5" stroke-width="2.75"/>
<line x1="393.9" y1="1560" x2="393.9" y2="1614.5" stroke-width="2.75"/>
<line x1="393.9" y1="1690" x2="393.9" y2="1750.9" stroke-width="2.75"/>
<line x1="393.9" y1="1750.9" x2="393.9" y2="1828.5" stroke-width="2.75"/>
<line x1="439.2" y1="1560" x2="439.2" y2="1828.5" stroke-width="2.75"/>
<line x1="465.5" y1="1560" x2="465.5" y2="1828.5" stroke-width="2.75"/>
<line x1="484.4" y1="1560" x2="484.4" y2="1828.5" stroke-width="2.75"/>
<line x1="500" y1="1560" x2="500" y2="1828.5" stroke-width="2.75"/>
<line x1="514" y1="1560" x2="514" y2="1828.5" stroke-width="2.75"/>
<line x1="525.1" y1="1560" x2="525.1" y2="1828.5" stroke-width="2.75"/>
<line x1="532.5" y1="1560" x2="532.5" y2="1828.5" stroke-width="2.75"/>
<line x1="536.6" y1="1560" x2="536.6" y2="1828.5" stroke-width="2.75"/>
<line x1="538.6" y1="1560" x2="538.6" y2="1828.5" stroke-width="2.75"/>
<line x1="582.8" y1="1560" x2="582.8" y2="1828.5" stroke-width="2.75"/>
<line x1="610.2" y1="1560" x2="610.2" y2="1828.5" stroke-width="2.75"/>
<line x1="629.4" y1="1560" x2="629.4" y2="1828.5" stroke-width="2.75"/>
<line x1="646.4" y1="1560" x2="646.4" y2="1828.5" stroke-width="2.75"/>
<line x1="659.8" y1="1560" x2="659.8" y2="1828.5" stroke-width="2.75"/>
<line x1="670.1" y1="1560" x2="670.1" y2="1828.5" stroke-width="2.75"/>
<line x1="678.3" y1="1560" x2="678.3" y2="1828.5" stroke-width="2.75"/>
<line x1="682" y1="1560" x2="682" y2="1828.5" stroke-width="2.75"/>
<rect x="250.5" y="1560" width="434.5" height="268.5" fill="none" stroke="#000" stroke-width="3.2"/>
</g>
<path d="M250.8 1566 C258 1566.58 279.13 1568.5 294 1569.5 C308.87 1570.5 323.03 1570.82 340 1572 C356.97 1573.18 379.27 1573.85 395.8 1576.6 C412.33 1579.35 424.4 1584.22 439.2 1588.5 C454 1592.78 471.45 1597.7 484.6 1602.3 C497.75 1606.9 505.93 1611.33 518.1 1616.1 C530.27 1620.87 546.75 1626.47 557.6 1630.9 C568.45 1635.33 574.33 1638.1 583.2 1642.7 C592.07 1647.3 602.58 1653.57 610.8 1658.5 C619.02 1663.43 624.93 1667.7 632.5 1672.3 C640.07 1676.9 649.62 1682.32 656.2 1686.1 C662.78 1689.88 667.07 1692.68 672 1695 C676.93 1697.32 683.5 1699.17 685.8 1700" fill="none" stroke="#000" stroke-width="3.0500000000000003" stroke-linecap="butt" stroke-linejoin="round" />
<path d="M250.8 1566 C257.47 1566.8 276.97 1568.62 290.8 1570.8 C304.63 1572.98 320.63 1575.98 333.8 1579.1 C346.97 1582.22 359.47 1586.95 369.8 1589.5 C380.13 1592.05 384.23 1590.95 395.8 1594.4 C407.37 1597.85 427.37 1606.25 439.2 1610.2 C451.03 1614.15 456.93 1614.98 466.8 1618.1 C476.67 1621.22 489.85 1625.78 498.4 1628.9 C506.95 1632.02 509.23 1633.35 518.1 1636.8 C526.97 1640.25 542.4 1645.82 551.6 1649.6 C560.8 1653.38 566.07 1656.05 573.3 1659.5 C580.53 1662.95 587.77 1666.85 595 1670.3 C602.23 1673.75 609.78 1676.73 616.7 1680.2 C623.62 1683.67 628.27 1686.83 636.5 1691.1 C644.73 1695.37 658.85 1702.82 666.1 1705.8 C673.35 1708.78 677.68 1708.47 680 1709" fill="none" stroke="#000" stroke-width="3.0500000000000003" stroke-dasharray="10 6" stroke-linecap="butt" stroke-linejoin="round" />
<text x="271.97" y="1638.51" font-size="16.32" font-weight="normal" transform="rotate(-0.45 271.90 1638.51)" >T</text>
<text x="282.67" y="1641.13" font-size="10.56" font-weight="normal" transform="rotate(-0.45 282.50 1641.13)" >J</text>
<text x="287.21" y="1638.51" font-size="16.32" font-weight="normal" textLength="45.61" lengthAdjust="spacingAndGlyphs" transform="rotate(-0.45 288.00 1638.51)" >=25°C</text>
<text x="275.95" y="1659.11" font-size="16.32" font-weight="normal" textLength="74.81" lengthAdjust="spacingAndGlyphs" transform="rotate(-0.45 276.20 1659.11)" >f=1.0MHz</text>
<text x="272.53" y="1677.11" font-size="16.32" font-weight="normal" textLength="79.52" lengthAdjust="spacingAndGlyphs" transform="rotate(-0.45 272.60 1677.11)" >Vsig=50mv</text>
<text x="351.75" y="1682.96" font-size="11.52" font-weight="normal" textLength="28.07" lengthAdjust="spacingAndGlyphs" transform="rotate(-0.45 353.00 1682.96)" >p-p</text>
<path d="M265.5 1763 L296.7 1763" fill="none" stroke="#000" stroke-width="2.6" stroke-linejoin="round" />
<path d="M265.5 1781.4 L296.7 1781.4" fill="none" stroke="#000" stroke-width="2.6" stroke-dasharray="7 4" stroke-linejoin="round" />
<text x="300.90" y="1766.95" font-size="15.84" font-weight="normal" textLength="88.68" lengthAdjust="spacingAndGlyphs" transform="rotate(-0.45 301.70 1766.95)" >SR220-240</text>
<text x="298.80" y="1787.55" font-size="15.84" font-weight="normal" textLength="91.49" lengthAdjust="spacingAndGlyphs" transform="rotate(-0.45 299.60 1787.55)" >SR250-2A0</text>
<text x="249.28" y="1849.11" font-size="16.32" font-weight="normal" textLength="21.99" lengthAdjust="spacingAndGlyphs" transform="rotate(-0.45 249.90 1849.11)" >0.1</text>
<text x="286.15" y="1849.11" font-size="16.32" font-weight="normal" textLength="23.14" lengthAdjust="spacingAndGlyphs" transform="rotate(-0.45 286.80 1849.11)" >0.4</text>
<text x="388.39" y="1849.11" font-size="16.32" font-weight="normal" transform="rotate(-0.45 391.00 1849.11)" >1</text>
<text x="482.86" y="1849.11" font-size="16.32" font-weight="normal" transform="rotate(-0.45 482.90 1849.11)" >4</text>
<text x="525.35" y="1849.11" font-size="16.32" font-weight="normal" textLength="18.18" lengthAdjust="spacingAndGlyphs" transform="rotate(-0.45 526.60 1849.11)" >10</text>
<text x="576.02" y="1849.11" font-size="16.32" font-weight="normal" textLength="19.35" lengthAdjust="spacingAndGlyphs" transform="rotate(-0.45 576.90 1849.11)" >20</text>
<text x="671.03" y="1849.11" font-size="16.32" font-weight="normal" textLength="27.82" lengthAdjust="spacingAndGlyphs" transform="rotate(-0.45 672.30 1849.11)" >100</text>
<text x="214.25" y="1566.41" font-size="16.32" font-weight="normal" textLength="31.39" lengthAdjust="spacingAndGlyphs" transform="rotate(-0.45 215.00 1566.41)" >500</text>
<text x="214.05" y="1620.91" font-size="16.32" font-weight="normal" textLength="31.59" lengthAdjust="spacingAndGlyphs" transform="rotate(-0.45 215.00 1620.91)" >200</text>
<text x="215.42" y="1668.31" font-size="16.32" font-weight="normal" textLength="30.18" lengthAdjust="spacingAndGlyphs" transform="rotate(-0.45 216.80 1668.31)" >100</text>
<text x="224.75" y="1698.21" font-size="16.32" font-weight="normal" textLength="20.89" lengthAdjust="spacingAndGlyphs" transform="rotate(-0.45 225.50 1698.21)" >50</text>
<text x="224.55" y="1757.91" font-size="16.32" font-weight="normal" textLength="21.09" lengthAdjust="spacingAndGlyphs" transform="rotate(-0.45 225.50 1757.91)" >20</text>
<text x="224.02" y="1803.61" font-size="16.32" font-weight="normal" textLength="21.64" lengthAdjust="spacingAndGlyphs" transform="rotate(-0.45 225.50 1803.61)" >10</text>
<text x="235.91" y="1833.51" font-size="16.32" font-weight="normal" transform="rotate(-0.45 236.00 1833.51)" >0</text>
<text x="352.37" y="1882.61" font-size="16.32" font-weight="normal" textLength="242.94" lengthAdjust="spacingAndGlyphs" transform="rotate(-0.45 353.80 1882.61)" >REVERSE VOLTAGE   VOLTS</text>
<text x="-0.27" y="6.27" font-size="18.24" font-weight="normal" textLength="245.54" lengthAdjust="spacingAndGlyphs" transform="translate(186.90 1836.60) rotate(-90.45)" >JUNCTION CAPACITANCE(pF)</text>
</g>
<text x="1198.96" y="2205.02" font-size="14.75" font-weight="bold" textLength="338.20" lengthAdjust="spacingAndGlyphs" transform="rotate(-0.12 1199.20 2205.02)" style="stroke-width:0.1px">JINAN GUDE ELECTRONIC DEVICE CO., LTD.</text>
</svg></body></html>
